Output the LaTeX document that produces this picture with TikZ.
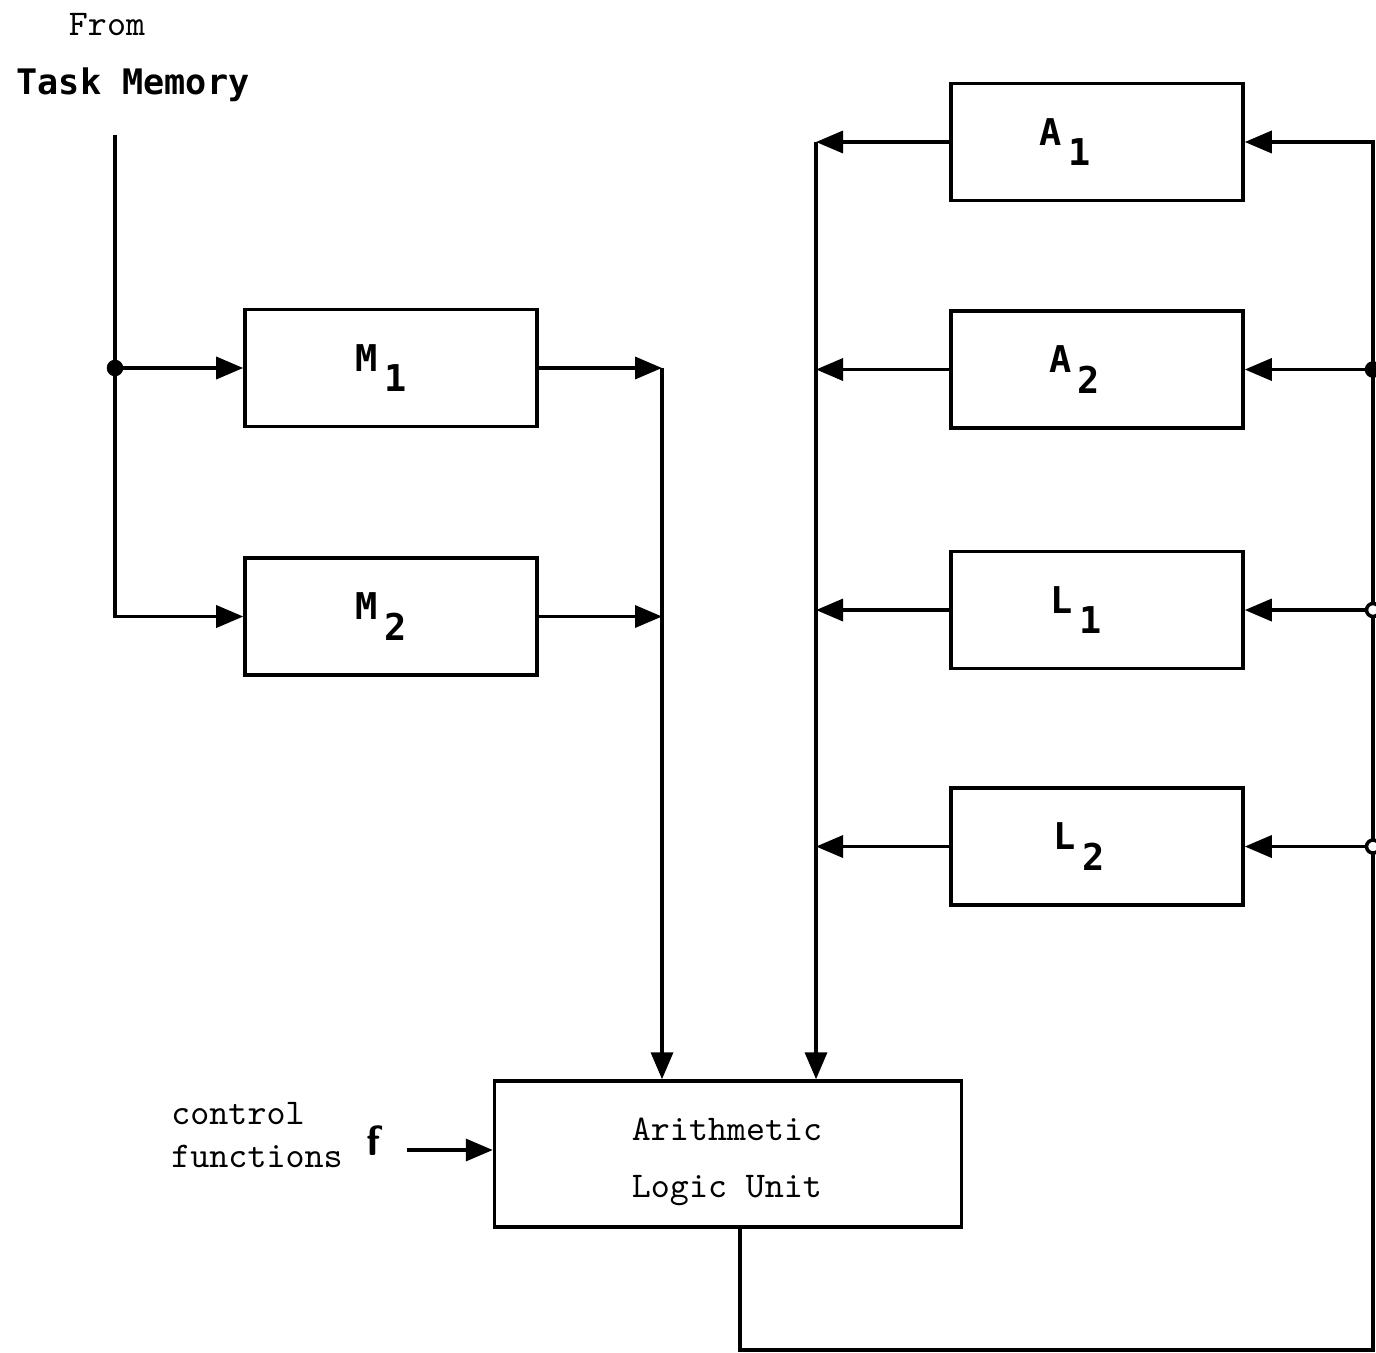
\documentclass[tikz,border=0pt]{standalone}
\usepackage{fontspec}
\newfontfamily\gothic{DejaVu Sans Mono}
\usetikzlibrary{arrows.meta,positioning}

\newcommand{\regsub}[2]{#1\hspace{0.6mm}\raisebox{-0.55em}{#2}}

\begin{document}
\begin{tikzpicture}[
  x=0.1mm, y=-0.1mm,
  font=\ttfamily\fontsize{10.3}{12}\selectfont,
  reg/.style={
    draw,
    line width=1pt,
    minimum width=29.2mm,
    minimum height=11.7mm,
    inner sep=0pt,
    font=\gothic\bfseries\fontsize{10.5}{12}\selectfont,
    execute at end node={\hspace{#1}},
  },
  reg/.default=2mm,
  flow/.style={-{Triangle[length=2.7mm,width=2.2mm]}, line width=1pt},
  dot/.style={circle, draw, fill, line width=1pt, inner sep=0pt, minimum size=1.3mm},
  odot/.style={dot, fill=white},
]
\useasboundingbox (0,0) rectangle (1376,1353);

% titles
\node (from) at (107,25) {From};
\node[font=\gothic\bfseries] (task) at (133,85) {Task Memory};

% register files
\node[reg] (m1) at (391,368) {\regsub{M}{1}};
\node[reg, below=12.8mm of m1] (m2) {\regsub{M}{2}};

\node[reg=6.4mm] (a1) at (1097,142) {\regsub{A}{1}};
\node[reg=4.5mm, below=10.7mm of a1] (a2) {\regsub{A}{2}};
\node[reg=4.2mm, below=12mm of a2] (l1) {\regsub{L}{1}};
\node[reg=3.6mm, below=11.6mm of l1] (l2) {\regsub{L}{2}};

% alu
\node[draw, line width=1pt, minimum width=46.7mm, minimum height=14.6mm] (alu) at (728,1154) {};
\node[align=center] (alutext) at (727,1162) {Arithmetic\\[4.4pt]Logic Unit};

\node[align=left] (ctrl) at (257,1135) {control\\functions};
\node[font=\sffamily\bfseries\large] (f) at (374,1141) {f};

% bus coordinates
\coordinate (tm) at (115,135);
\coordinate (mbus) at (662,0);
\coordinate (abus) at (816,0);
\coordinate (fin) at (407,1150);
\coordinate (fb) at (1373,1350);

% task memory to M1, M2
\draw[flow] (tm) |- (m2.west);
\draw[flow] (tm |- m1) -- (m1.west);
\node[dot] at (tm |- m1) {};

% M outputs
\draw[flow] (m1.east) -- (m1.east -| mbus);
\draw[flow] (m2.east) -- (m2.east -| mbus);
\draw[flow] (m1.east -| mbus) -- (mbus |- alu.north);

% A, L outputs
\draw[flow] (a1.west) -- (a1.west -| abus);
\draw[flow] (a2.west) -- (a2.west -| abus);
\draw[flow] (l1.west) -- (l1.west -| abus);
\draw[flow] (l2.west) -- (l2.west -| abus);
\draw[flow] (a1.west -| abus) -- (abus |- alu.north);

% control
\draw[flow] (fin) -- (fin -| alu.west);

% feedback
\draw[flow] ([xshift=1.2mm]alu.south) |- (fb) |- (a1.east);
\draw[flow] (a2.east -| fb) -- (a2.east);
\draw[flow] (l1.east -| fb) -- (l1.east);
\draw[flow] (l2.east -| fb) -- (l2.east);
\node[dot] at (a2.east -| fb) {};
\node[odot] at (l1.east -| fb) {};
\node[odot] at (l2.east -| fb) {};

\end{tikzpicture}
\end{document}
